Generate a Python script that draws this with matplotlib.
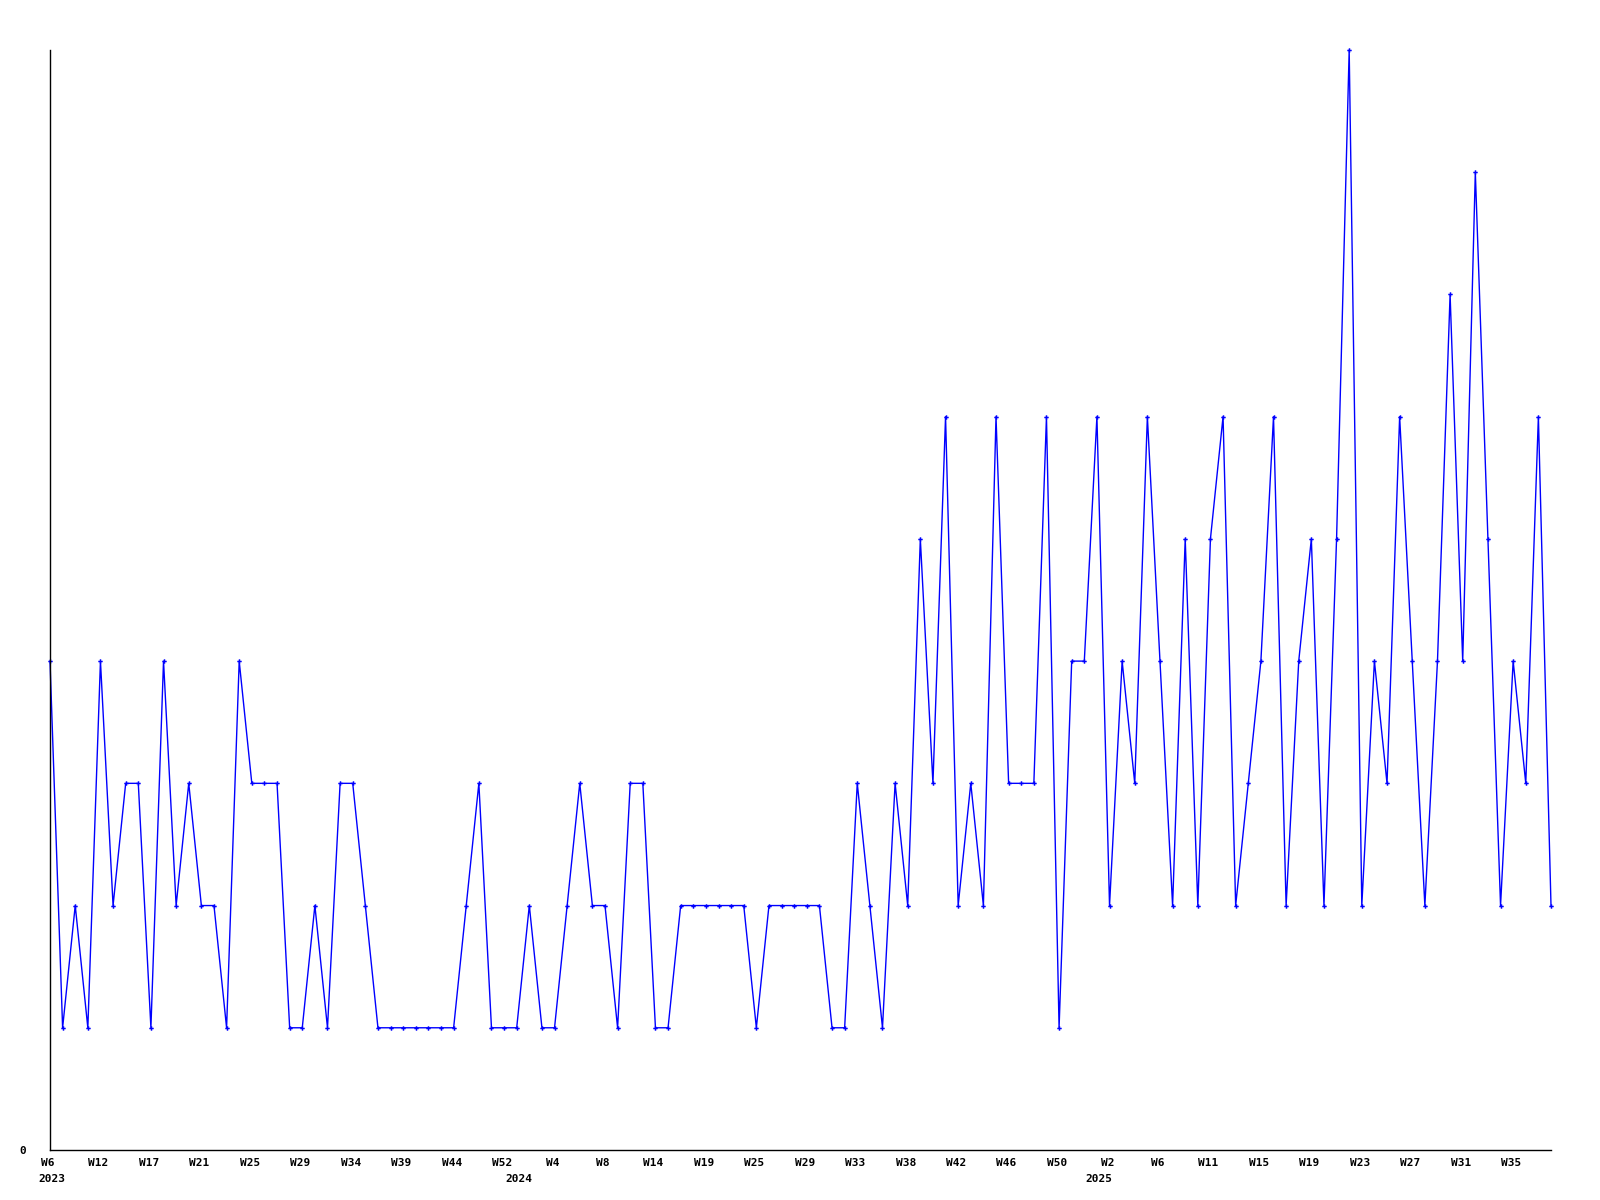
import matplotlib
matplotlib.use("Agg")
import matplotlib.pyplot as plt
import matplotlib.transforms as mtransforms

# Weekly values (categorical sequence of 120 points)
values = [
    4, 1, 2, 1, 4, 2, 3, 3, 1, 4, 2, 3, 2, 2, 1, 4, 3, 3, 3, 1, 1, 2, 1,
    3, 3, 2, 1, 1, 1, 1, 1, 1, 1, 2, 3, 1, 1, 1, 2, 1, 1, 2, 3, 2,
    2, 1, 3, 3, 1, 1, 2, 2, 2, 2, 2, 2, 1, 2, 2, 2, 2, 2, 1, 1, 3, 2, 1,
    3, 2, 5, 3, 6, 2, 3, 2, 6, 3, 3, 3, 6, 1, 4, 4, 6, 2,
    4, 3, 6, 4, 2, 5, 2, 5, 6, 2, 3, 4, 6, 2, 4, 5, 2,
    5, 9, 2, 4, 3, 6, 4, 2, 4, 7, 4, 8, 5, 2, 4, 3, 6, 2,
]

# Week labels shown on every 4th point
week_labels = [
    "W6", "W12", "W17", "W21", "W25", "W29", "W34", "W39", "W44", "W52",
    "W4", "W8", "W14", "W19", "W25", "W29", "W33", "W38", "W42", "W46", "W50",
    "W2", "W6", "W11", "W15", "W19", "W23", "W27", "W31", "W35",
]
label_step = 4

# Year labels and the point index where each year starts
years = ["2023", "2024", "2025"]
year_start_idx = [0, 37, 83]

font = dict(family="DejaVu Sans Mono", weight="bold", size=8)

fig = plt.figure(figsize=(16, 12), dpi=100)
ax = fig.add_axes([50 / 1600, 1 - 1150 / 1200, 1501 / 1600, 1100 / 1200])

x = list(range(len(values)))
ax.plot(x, values, color="#0000ff", linewidth=1.0, marker="P",
        markersize=3.2, markeredgewidth=0, clip_on=False)

ax.set_xlim(0, len(values) - 1)
ax.set_ylim(0, 9)

for s in ["top", "right"]:
    ax.spines[s].set_visible(False)
for s in ["left", "bottom"]:
    ax.spines[s].set_color("black")
    ax.spines[s].set_linewidth(1.0)

ax.set_xticks(list(range(0, len(week_labels) * label_step, label_step)))
ax.set_xticklabels(week_labels, **font)
ax.tick_params(axis="x", length=0, pad=5.5)
for lbl in ax.get_xticklabels():
    lbl.set_transform(lbl.get_transform() +
                      mtransforms.ScaledTranslation(-2 / 100, 0, fig.dpi_scale_trans))

ax.set_yticks([0])
ax.set_yticklabels(["0"], **font)
ax.tick_params(axis="y", length=0, pad=17)

trans = mtransforms.blended_transform_factory(ax.transData, ax.transAxes)
off = mtransforms.ScaledTranslation(2 / 100, -24 / 100, fig.dpi_scale_trans)
for yr, idx in zip(years, year_start_idx):
    ax.text(idx, 0, yr, transform=trans + off, ha="center", va="top", **font)

fig.savefig("out.png", dpi=100, facecolor="white")
